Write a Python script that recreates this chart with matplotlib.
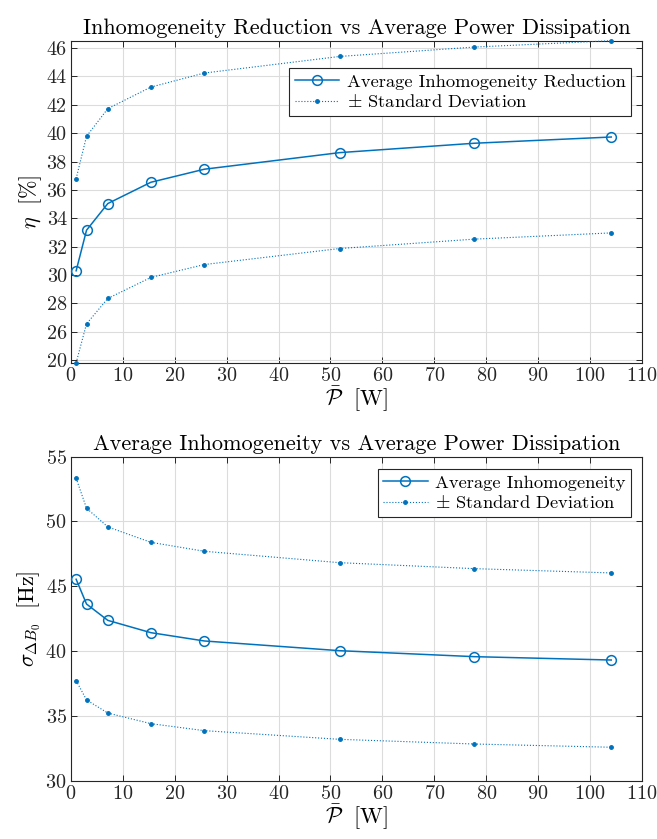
import numpy as np
import matplotlib
matplotlib.use('Agg')
import matplotlib.pyplot as plt

plt.rcParams['font.family'] = 'serif'
plt.rcParams['font.serif'] = ['cmr10']
plt.rcParams['mathtext.fontset'] = 'cm'
plt.rcParams['axes.unicode_minus'] = False
plt.rcParams['axes.formatter.use_mathtext'] = True

# DADOS

power = [1.0, 3.0, 7.1, 15.4, 25.7, 51.8, 77.7, 104.1]

# eficiencia (reducao da inomogeneidade) [%]
eta_mean = [30.30, 33.16, 35.04, 36.54, 37.46, 38.63, 39.29, 39.73]
eta_upper = [36.80, 39.78, 41.73, 43.25, 44.24, 45.41, 46.07, 46.52]
eta_lower = [23.82, 26.56, 28.35, 29.83, 30.74, 31.87, 32.53, 32.97]

# desvio padrao do campo [Hz]
sig_mean = [45.54, 43.63, 42.37, 41.42, 40.78, 40.03, 39.57, 39.31]
sig_upper = [53.33, 51.02, 49.58, 48.39, 47.70, 46.82, 46.36, 46.03]
sig_lower = [37.72, 36.23, 35.22, 34.40, 33.86, 33.19, 32.83, 32.58]

eta_ticks = [24, 26, 28, 30, 32, 34, 36, 38, 40, 42, 44, 46]
eta_ticklabels = ['20', '26', '28', '30', '32', '34', '36', '38', '40', '42', '44', '46']
sig_ticks = [30, 35, 40, 45, 50, 55]
x_ticks = list(range(0, 111, 10))

BLUE = '#0072BD'
DARK = '#262626'


def style_axes(ax):
    ax.set_xlim(0, 110)
    ax.set_xticks(x_ticks)
    ax.grid(True, color='#dcdcdc', linewidth=0.8)
    ax.set_axisbelow(True)
    ax.tick_params(direction='in', top=True, right=True, length=4,
                   labelsize=14.5, colors=DARK, width=0.7, pad=3)
    for s in ax.spines.values():
        s.set_color(DARK)
        s.set_linewidth(0.8)


def plot_panel(ax, mean, upper, lower, label_mean):
    ax.plot(power, mean, '-o', color=BLUE, lw=1.1, ms=7, mfc='none',
            mew=1.1, label=label_mean, clip_on=False, zorder=3)
    ax.plot(power, upper, ':', color=BLUE, lw=0.8, marker='.', ms=5,
            label=r'$\pm$ Standard Deviation', clip_on=False, zorder=3)
    ax.plot(power, lower, ':', color=BLUE, lw=0.8, marker='.', ms=5,
            clip_on=False, zorder=3)


def add_legend(ax, y_anchor):
    leg = ax.legend(loc='upper right', bbox_to_anchor=(0.981, y_anchor), borderaxespad=0,
                    fontsize=13.3, fancybox=False, edgecolor=DARK, framealpha=1,
                    handlelength=2.4, borderpad=0.3, labelspacing=0.2, handletextpad=0.4)
    leg.get_frame().set_linewidth(0.8)


fig = plt.figure(figsize=(6.57, 8.39), dpi=100)
ax1 = fig.add_axes([0.108, 0.5677, 0.869, 0.3838])
ax2 = fig.add_axes([0.108, 0.0695, 0.869, 0.3862])

# grafico de cima
plot_panel(ax1, eta_mean, eta_upper, eta_lower, 'Average Inhomogeneity Reduction')
style_axes(ax1)
ax1.set_ylim(min(eta_lower), max(eta_upper))
ax1.set_yticks(eta_ticks)
ax1.set_yticklabels(eta_ticklabels)
ax1.set_title('Inhomogeneity Reduction vs Average Power Dissipation', fontsize=16, pad=5)
ax1.set_xlabel(r'$\bar{\mathcal{P}}\ \ [\mathrm{W}]$', fontsize=16, labelpad=0)
ax1.set_ylabel(r'$\eta\ \ [\%]$', fontsize=16, labelpad=2)
add_legend(ax1, 0.915)

# grafico de baixo
plot_panel(ax2, sig_mean, sig_upper, sig_lower, 'Average Inhomogeneity')
style_axes(ax2)
ax2.set_ylim(30, 55)
ax2.set_yticks(sig_ticks)
ax2.set_title('Average Inhomogeneity vs Average Power Dissipation', fontsize=16, pad=5)
ax2.set_xlabel(r'$\bar{\mathcal{P}}\ \ [\mathrm{W}]$', fontsize=16, labelpad=0)
ax2.set_ylabel(r'$\sigma_{\Delta B_0}\ \ [\mathrm{Hz}]$', fontsize=16, labelpad=2)
add_legend(ax2, 0.961)

plt.savefig('out.png', dpi=100)
